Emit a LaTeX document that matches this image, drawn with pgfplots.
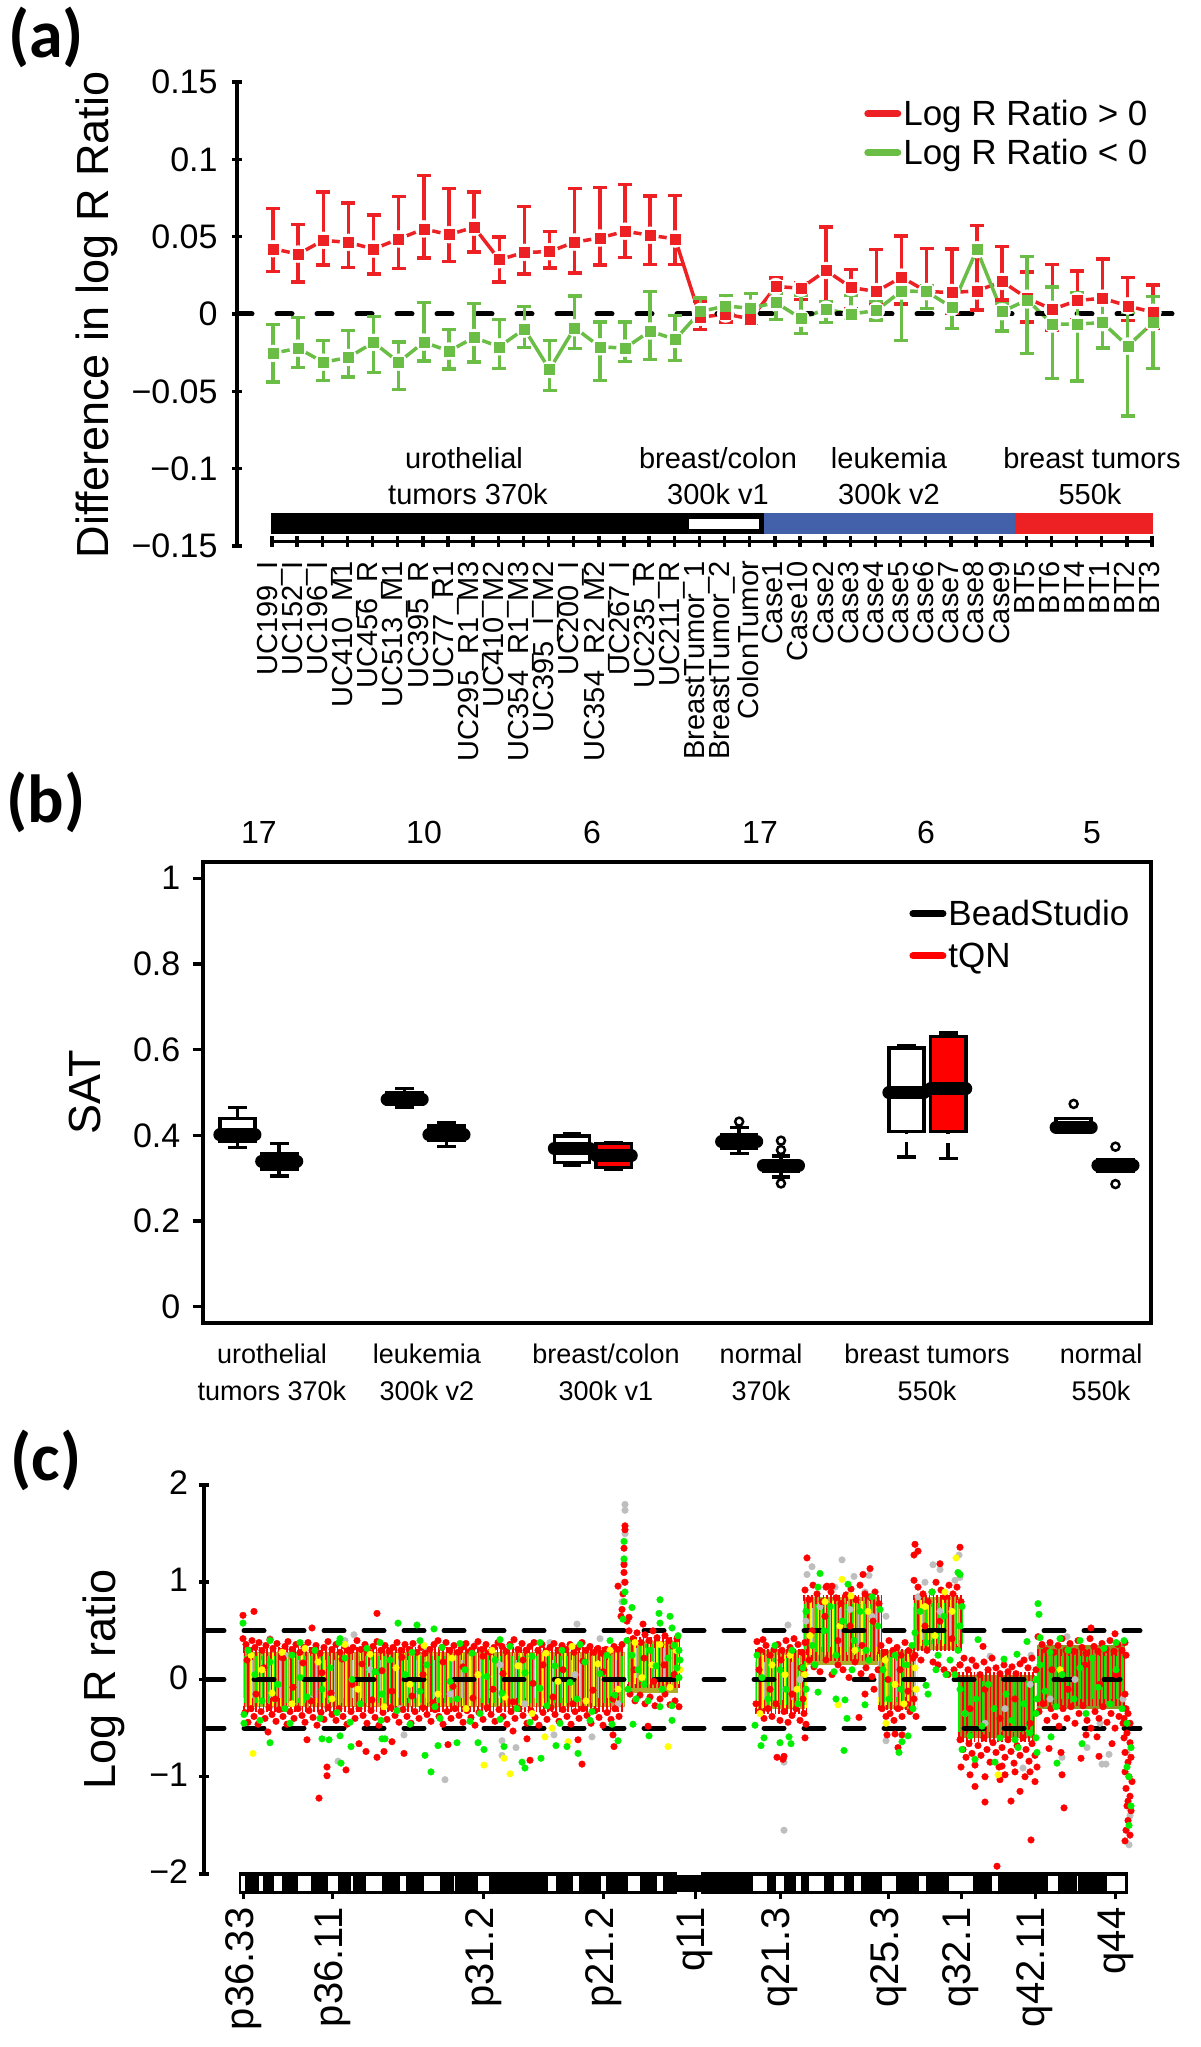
\documentclass[border=0pt]{standalone}
\usepackage{fontspec}
\setmainfont{Liberation Sans}
\newfontfamily\panelfont{Carlito}
\usepackage{pgfplots}
\usepackage{pgfplotstable}
\pgfplotsset{compat=1.18}
\usepgfplotslibrary{statistics}
\definecolor{lrred}{RGB}{237,32,36}
\definecolor{lrgreen}{RGB}{106,189,69}
\definecolor{barblue}{RGB}{67,96,170}
\definecolor{ptred}{RGB}{255,0,0}
\definecolor{ptgreen}{RGB}{0,240,0}
\definecolor{ptyellow}{RGB}{255,255,0}
\definecolor{ptgray}{RGB}{190,190,190}
\definecolor{coreA}{RGB}{176,172,40}
\definecolor{coreB}{RGB}{140,150,35}
\newcommand\fs[1]{\fontsize{#1}{#1}\selectfont}
\newcommand\lab[4]{\node[font=\fs{#3},inner sep=0pt] at (#1pt,{(2047-#2)*1pt}) {#4};}
% densely overplotted part of a segment: x from, x to, centre, height in pt
\newcommand\stripes[4]{%
  \addplot[ptred,line width=0.85*#4pt,dash pattern=on 1.8pt off 2.1pt,forget plot] coordinates {(#1,#3)(#2,#3)};
  \addplot[ptgreen,line width=0.62*#4pt,dash pattern=on 1.6pt off 4.5pt,forget plot] coordinates {(#1,#3)(#2,#3)};}
\newcommand\yellowstripes[4]{%
  \addplot[ptyellow,line width=0.7*#4pt,dash pattern=on 1.3pt off 6pt,forget plot] coordinates {(#1,#3)(#2,#3)};
  \addplot[ptgray,line width=0.5*#4pt,dash pattern=on 1.1pt off 8pt,forget plot] coordinates {(#1,#3)(#2,#3)};}
% columns: sample, red mean/upper/lower, green mean/upper/lower
\pgfplotstableread{
i ry rhi rlo gy ghi glo
0 .0422 .0682 .0275 -.0255 -.0067 -.0439
1 .0387 .0578 .0208 -.0221 -.0024 -.0346
2 .0476 .0788 .0316 -.0312 -.0171 -.0429
3 .0463 .0719 .0301 -.0281 -.0106 -.0407
4 .0420 .0639 .0260 -.0184 -.0017 -.0377
5 .0485 .0758 .0294 -.0312 -.0180 -.0487
6 .0550 .0896 .0361 -.0182 .0074 -.0305
7 .0513 .0812 .0338 -.0240 -.0100 -.0357
8 .0561 .0788 .0400 -.0152 .0069 -.0310
9 .0351 .0498 .0208 -.0212 -.0035 -.0351
10 .0398 .0695 .0258 -.0097 .0048 -.0216
11 .0403 .0532 .0297 -.0359 -.0173 -.0494
12 .0465 .0812 .0264 -.0089 .0117 -.0223
13 .0491 .0818 .0316 -.0212 -.0052 -.0429
14 .0535 .0838 .0366 -.0221 -.0052 -.0307
15 .0509 .0762 .0320 -.0110 .0145 -.0294
16 .0485 .0766 .0320 -.0165 -.0011 -.0301
17 -.0022 .0080 -.0100 .0015 .0102 -.0050
18 0 .0048 -.0052 .0052 .0119 -.0017
19 -.0032 .0048 -.0061 .0037 .0134 -.0039
20 .0177 .0232 .0134 .0074 .0134 -.0035
21 .0167 .0199 .0095 -.0028 .0119 -.0126
22 .0281 .0563 .0015 .0030 .0080 -.0054
23 .0171 .0286 .0037 0 .0119 -.0028
24 .0145 .0416 .0058 .0022 .0080 -.0039
25 .0238 .0504 .0065 .0149 .0167 -.0173
26 .0145 .0424 .0037 .0145 .0182 .0037
27 .0139 .0420 .0004 .0043 .0134 -.0095
28 .0149 .0571 .0026 .0416 .0433 .0394
29 .0210 .0437 .0091 .0015 .0069 -.0110
30 .0102 .0271 -.0052 .0091 .0372 -.0255
31 .0030 .0320 -.0104 -.0065 .0173 -.0418
32 .0087 .0277 -.0039 -.0065 .0139 -.0433
33 .0102 .0355 -.0039 -.0056 .0126 -.0219
34 .0052 .0236 -.0043 -.0208 .0009 -.0660
35 .0011 .0186 -.0095 -.0056 .0113 -.0353
}\ratiotable
\pgfplotsset{
  panel/.style={scale only axis, anchor=south west,
    tick align=outside, major tick length=10.5pt,
    axis line style={line width=3.5pt,line cap=round},
    tick style={line width=3.5pt,black},
    tick label style={font=\fs{34},inner sep=0pt}},
  thickleg/.style={legend style={draw=none,fill=none,inner sep=0pt,
      font=\fs{35},legend cell align=left,row sep=#1},
    legend image code/.code={\draw[##1,line width=7pt,line cap=round] (0pt,0pt) -- (30pt,0pt);}},
  cloud/.style={only marks,mark=*,mark size=3.3pt,mark options={draw=none},forget plot},
  bxp/.style={solid,draw=black,line width=3.5pt,mark=o,mark size=4pt,
    mark options={fill=white,line width=2.5pt},forget plot},
  errs/.style={only marks,mark=square*,mark size=5pt,mark options={solid},forget plot,
    error bars/.cd,y dir=both,y explicit,error bar style={line width=3.5pt},
    error mark options={rotate=90,mark size=7pt,line width=3.5pt}},
}
\begin{document}
\begin{tikzpicture}[x=1pt,y=1pt]
\path[use as bounding box] (0,0) rectangle (1200pt,2047pt);

% ---------- panel (a)
\begin{axis}[panel,thickleg=8pt,at={(237pt,1501pt)},width=943pt,height=464pt,
  xmin=-1.432,xmax=36.08,ymin=-0.15,ymax=0.15,clip=false,
  axis y line=left,hide x axis,y axis line style={-},
  ytick={-0.15,-0.1,-0.05,0,0.05,0.1,0.15},
  yticklabels={−0.15,−0.1,−0.05,0,0.05,0.1,0.15},
  yticklabel style={xshift=-14pt},
  ylabel={Difference in log R Ratio},
  every axis y label/.style={at={(axis description cs:-0.1485,0.498)},anchor=center,rotate=90,font=\fs{45}},
  legend style={at={(axis description cs:0.665,0.965)},anchor=north west}]
\addplot[lrred,line width=3.5pt] table[x=i,y=ry]{\ratiotable};
\addlegendentry{Log R Ratio > 0}
\addplot[only marks,mark=*,mark size=8.5pt,white,forget plot] table[x=i,y=ry]{\ratiotable};
\addplot[lrgreen,line width=3.5pt] table[x=i,y=gy]{\ratiotable};
\addlegendentry{Log R Ratio < 0}
\addplot[only marks,mark=*,mark size=8.5pt,white,forget plot] table[x=i,y=gy]{\ratiotable};
\addplot[black,line width=5pt,line cap=round,dash pattern=on 15pt off 25pt,forget plot] coordinates {(-1.432,0)(35.8,0)};
\addplot[lrred,errs] table[x=i,y=ry,y error plus expr=\thisrow{rhi}-\thisrow{ry},y error minus expr=\thisrow{ry}-\thisrow{rlo}]{\ratiotable};
\addplot[lrgreen,errs] table[x=i,y=gy,y error plus expr=\thisrow{ghi}-\thisrow{gy},y error minus expr=\thisrow{gy}-\thisrow{glo}]{\ratiotable};
\end{axis}
% sample ticks and names sit on their own line above the bottom of the y axis
\begin{axis}[panel,at={(272pt,1505.3pt)},width=880pt,height=1pt,
  xmin=0,xmax=35,ymin=0,ymax=1,axis x line=bottom,hide y axis,x axis line style={-},
  xtick={0,...,35},tick label style={font=\fs{29}},
  xticklabels={UC199\_I,UC152\_I,UC196\_I,UC410\_M1,UC456\_R,UC513\_M1,UC395\_R,UC77\_R1,UC295\_R1\_M3,UC410\_M2,UC354\_R1\_M3,UC395\_I\_M2,UC200\_I,UC354\_R2\_M2,UC267\_I,UC235\_R,UC211\_R,BreastTumor\_1,BreastTumor\_2,ColonTumor,Case1,Case10,Case2,Case3,Case4,Case5,Case6,Case7,Case8,Case9,BT5,BT6,BT4,BT1,BT2,BT3},
  xticklabel style={rotate=90,anchor=east,xshift=-14pt,yshift=2pt}]
\end{axis}
\fill[black] (271pt,1513pt) rectangle (764pt,1534pt);
\fill[white] (689pt,1518pt) rectangle (759pt,1528pt);
\fill[barblue] (764pt,1513pt) rectangle (1015pt,1534pt);
\fill[lrred] (1015pt,1513pt) rectangle (1153pt,1534pt);
\lab{464}{458}{29}{urothelial}
\lab{468}{494}{29}{tumors 370k}
\lab{718}{458}{29}{breast/colon}
\lab{718}{494}{29}{300k v1}
\lab{889}{458}{29}{leukemia}
\lab{889}{494}{29}{300k v2}
\lab{1092}{458}{29}{breast tumors}
\lab{1090}{494}{29}{550k}

% ---------- panel (b)
\begin{axis}[panel,thickleg=12pt,at={(203pt,724pt)},width=948pt,height=461pt,
  xmin=0.177,xmax=22.85,ymin=-0.038,ymax=1.038,
  ytick={0,0.2,0.4,0.6,0.8,1},yticklabels={0,0.2,0.4,0.6,0.8,1},
  yticklabel style={xshift=-12pt},
  xtick=\empty,ytick pos=left,
  boxplot/draw direction=y,
  boxplot/box extend=0.84,boxplot/whisker extend=0.45,
  boxplot/every median/.style={line width=13pt,line cap=round},
  ylabel={SAT},
  every axis y label/.style={at={(axis description cs:-0.1245,0.5)},anchor=center,rotate=90,font=\fs{45}},
  legend style={at={(axis description cs:0.745,0.922)},anchor=north west}]
\addlegendimage{black}
\addlegendentry{BeadStudio}
\addlegendimage{red}
\addlegendentry{tQN}
\addplot[bxp,fill=white,boxplot prepared={draw position=1,lower whisker=.3719,lower quartile=.3852,median=.4008,upper quartile=.4398,upper whisker=.4655}] coordinates {};
\addplot[bxp,fill=red,boxplot prepared={draw position=2,lower whisker=.3049,lower quartile=.3205,median=.34,upper quartile=.3579,upper whisker=.3813}] coordinates {};
\addplot[bxp,fill=white,boxplot prepared={draw position=5,lower whisker=.4655,lower quartile=.4733,median=.4842,upper quartile=.4998,upper whisker=.5092}] coordinates {};
\addplot[bxp,fill=red,boxplot prepared={draw position=6,lower whisker=.3735,lower quartile=.3875,median=.4008,upper quartile=.4218,upper whisker=.4304}] coordinates {};
\addplot[bxp,fill=white,boxplot prepared={draw position=9,lower whisker=.3298,lower quartile=.3368,median=.3696,upper quartile=.3984,upper whisker=.4031}] coordinates {};
\addplot[bxp,fill=red,boxplot prepared={draw position=10,lower whisker=.3212,lower quartile=.3251,median=.3524,upper quartile=.3813,upper whisker=.3836}] coordinates {};
\addplot[bxp,fill=white,boxplot prepared={draw position=13,lower whisker=.3579,lower quartile=.3696,median=.3852,upper quartile=.4008,upper whisker=.4179}] coordinates {(0,.432)};
\addplot[bxp,fill=red,boxplot prepared={draw position=14,lower whisker=.3033,lower quartile=.3173,median=.329,upper quartile=.3384,upper whisker=.3517}] coordinates {(0,.3875)(0,.3657)(0,.2877)};
\addplot[bxp,fill=white,boxplot prepared={draw position=17,lower whisker=.35,lower quartile=.4086,median=.4998,upper quartile=.6035,upper whisker=.609}] coordinates {};
\addplot[bxp,fill=red,boxplot prepared={draw position=18,lower whisker=.3462,lower quartile=.4086,median=.5084,upper quartile=.6308,upper whisker=.6386}] coordinates {};
\addplot[bxp,fill=white,boxplot prepared={draw position=21,lower whisker=.4086,lower quartile=.4086,median=.4187,upper quartile=.4398,upper whisker=.4398}] coordinates {(0,.4733)};
\addplot[bxp,fill=red,boxplot prepared={draw position=22,lower whisker=.3173,lower quartile=.3173,median=.3306,upper quartile=.3439,upper whisker=.3439}] coordinates {(0,.3735)(0,.2862)};
% the two tall boxes have a gap under the box
\addplot[white,line width=6pt,forget plot] coordinates {(17,.402)(17,.3852)};
\addplot[white,line width=6pt,forget plot] coordinates {(18,.402)(18,.3828)};
\end{axis}
\lab{259}{833}{32}{17}
\lab{424}{833}{32}{10}
\lab{592}{833}{32}{6}
\lab{760}{833}{32}{17}
\lab{926}{833}{32}{6}
\lab{1092}{833}{32}{5}
\lab{272}{1354}{27}{urothelial}
\lab{272}{1391}{27}{tumors 370k}
\lab{427}{1354}{27}{leukemia}
\lab{427}{1391}{27}{300k v2}
\lab{606}{1354}{27}{breast/colon}
\lab{606}{1391}{27}{300k v1}
\lab{761}{1354}{27}{normal}
\lab{761}{1391}{27}{370k}
\lab{927}{1354}{27}{breast tumors}
\lab{927}{1391}{27}{550k}
\lab{1101}{1354}{27}{normal}
\lab{1101}{1391}{27}{550k}

% ---------- panel (c), x is position along the chromosome in drawing units
\begin{axis}[panel,at={(204pt,173pt)},width=946pt,height=389pt,
  xmin=204,xmax=1150,ymin=-2,ymax=2,
  axis y line=left,hide x axis,y axis line style={-},
  ytick={-2,-1,0,1,2},yticklabels={−2,−1,0,1,2},
  yticklabel style={xshift=-10.5pt,yshift=2pt},
  ylabel={Log R ratio},
  every axis y label/.style={at={(axis description cs:-0.106,0.5)},anchor=center,rotate=90,font=\fs{45}}]
\addplot[coreA,fill=coreA,draw=none,forget plot] coordinates {(245,.28)(625,.28)(625,-.28)(245,-.28)} --cycle;
\addplot[coreA,fill=coreA,draw=none,forget plot] coordinates {(628,.4)(678,.4)(678,-.14)(628,-.14)} --cycle;
\addplot[coreA,fill=coreA,draw=none,forget plot] coordinates {(758,.3)(805,.3)(805,-.3)(758,-.3)} --cycle;
\addplot[coreA,fill=coreA,draw=none,forget plot] coordinates {(803,.85)(880,.85)(880,.15)(803,.15)} --cycle;
\addplot[coreA,fill=coreA,draw=none,forget plot] coordinates {(880,.3)(915,.3)(915,-.3)(880,-.3)} --cycle;
\addplot[coreA,fill=coreA,draw=none,forget plot] coordinates {(913,.85)(962,.85)(962,.3)(913,.3)} --cycle;
\addplot[coreB,fill=coreB,draw=none,forget plot] coordinates {(958,.05)(1035,.05)(1035,-.6)(958,-.6)} --cycle;
\addplot[coreB,fill=coreB,draw=none,forget plot] coordinates {(1037,.35)(1125,.35)(1125,-.3)(1037,-.3)} --cycle;
\stripes{243}{625}{0}{76}
\yellowstripes{243}{625}{0}{76}
\stripes{627}{680}{.17}{60}
\yellowstripes{627}{680}{.17}{60}
\stripes{755}{807}{-.02}{76}
\yellowstripes{755}{807}{-.02}{76}
\stripes{803}{882}{.53}{78}
\yellowstripes{803}{882}{.53}{78}
\stripes{878}{917}{0}{72}
\yellowstripes{878}{917}{0}{72}
\stripes{913}{963}{.58}{66}
\yellowstripes{913}{963}{.58}{66}
\stripes{958}{1036}{-.28}{82}
\stripes{1037}{1126}{.02}{68}
\addplot[ptgray,cloud] coordinates {
(270,.42)(285,.25)(310,-.2)(345,.4)(370,.1)(400,-.3)(425,.3)(450,-.15)(475,.35)(500,.15)(525,-.25)(550,.38)(575,.05)(600,.42)(615,-.3)(618,-.25)
(622,.8)(625,1.8)(625,1.74)(625,1.5)(624,1.2)(624,1)(800,0)(806,.6)(820,.75)(835,.95)(850,.72)(865,.9)(872,.65)(918,.85)(925,1)(940,.7)(955,1.02)(960,1.05)
(965,-.35)(985,-.45)(1005,-.3)(1030,-.05)(1050,-.2)(1075,0)(1100,-.45)(1123,-.2)(1127,-.75)(1130,-1.4)(1129,-1.7)(784,-1.55)
(338,-.84)(445,-1.03)(577,.57)(354,.46)(502,-.63)(502,-.78)(516,-.7)(404,-.57)(592,-.59)(554,-.57)
(842,1.23)(812,1.16)(807,1.08)(854,1.06)(869,1.07)(933,1.18)(940,1.13)(959,1.28)(886,.65)(788,.56)(784,-.85)(886,-.63)(1023,-.91)(1062,-.8)(1109,-.77)(1102,-.87)(1106,-.87)(990,.24)(1067,.44)(1031,.25)(1087,-.7)
};
\addplot[ptred,cloud] coordinates {
(243,.42)(246,.36)(249,.3)(252,.4)(255,.33)(259,.38)(262,.3)(266,.35)(270,.41)(273,.32)(277,.37)(281,.29)(285,.34)(288,.39)(292,.31)(296,.36)(300,.28)(304,.33)(308,.38)(312,.3)
(316,.35)(320,.27)(324,.33)(328,.39)(332,.31)(336,.36)(340,.28)(345,.34)(349,.29)(353,.33)(357,.4)(361,.31)(365,.36)(369,.28)(373,.34)(377,.39)(381,.3)(385,.35)(389,.29)(393,.33)
(397,.38)(401,.3)(405,.36)(409,.31)(413,.37)(417,.28)(421,.33)(425,.27)(430,.31)(434,.36)(438,.4)(442,.33)(446,.38)(450,.3)(454,.35)(458,.28)(462,.33)(466,.37)(470,.29)(474,.34)
(478,.39)(482,.31)(486,.36)(490,.28)(494,.33)(498,.38)(502,.34)(506,.29)(510,.36)(514,.41)(518,.31)(522,.37)(526,.3)(530,.34)(534,.38)(538,.3)(542,.36)(546,.29)(550,.33)(554,.37)
(558,.3)(562,.35)(566,.31)(570,.36)(574,.28)(578,.33)(582,.38)(586,.3)(590,.34)(594,.28)(598,.32)(602,.27)(606,.31)(610,.29)(614,.34)(618,.31)(622,.36)
(245,-.34)(248,-.44)(251,-.3)(254,-.38)(258,-.46)(261,-.33)(265,-.4)(269,-.29)(272,-.36)(276,-.43)(279,-.31)(283,-.38)(287,-.46)(290,-.33)(294,-.4)(298,-.3)(302,-.37)(305,-.44)(309,-.32)(313,-.39)
(317,-.47)(321,-.34)(324,-.41)(328,-.29)(332,-.36)(336,-.42)(339,-.3)(343,-.38)(347,-.46)(351,-.33)(355,-.4)(359,-.3)(363,-.37)(367,-.45)(371,-.32)(375,-.39)(379,-.47)(383,-.34)(387,-.41)(391,-.29)
(395,-.37)(399,-.44)(403,-.31)(407,-.38)(411,-.45)(415,-.33)(419,-.4)(423,-.29)(427,-.36)(431,-.43)(435,-.31)(439,-.38)(443,-.46)(447,-.33)(451,-.4)(455,-.3)(459,-.37)(463,-.44)(467,-.32)(471,-.39)
(475,-.47)(479,-.34)(483,-.41)(487,-.29)(491,-.36)(495,-.43)(499,-.31)(503,-.38)(507,-.46)(511,-.33)(515,-.4)(519,-.3)(523,-.37)(527,-.45)(531,-.32)(535,-.39)(539,-.47)(543,-.34)(547,-.41)(551,-.29)
(555,-.36)(559,-.43)(563,-.31)(567,-.38)(571,-.46)(575,-.33)(579,-.4)(583,-.3)(587,-.37)(591,-.45)(595,-.32)(599,-.39)(603,-.47)(607,-.34)(611,-.41)(615,-.3)(619,-.38)
(247,.2)(256,-.15)(264,.12)(275,-.2)(283,.22)(293,-.08)(303,.17)(311,-.22)(322,.07)(331,-.14)(342,.21)(352,-.05)(362,.16)(372,-.21)(382,.09)(392,-.12)(402,.23)(412,-.17)(423,.05)(433,-.24)
(443,.18)(453,-.07)(463,.13)(473,-.19)(483,.24)(493,-.1)(503,.06)(513,-.23)(523,.2)(533,-.04)(543,.15)(553,-.18)(563,.1)(573,-.25)(583,.19)(593,-.11)(603,.08)(613,-.2)
(243,.66)(254,.7)(377,.68)(312,.53)(643,.57)(618,.96)(629,.64)(327,-.9)(327,-.99)(346,-.93)(307,-.62)(359,-.66)(366,-.74)(377,-.8)(384,-.74)(392,-.64)(404,-.76)(448,-.67)(527,-.61)(530,-.83)
(578,-.62)(582,-.87)(614,-.69)(648,-.48)(513,-.53)(268,-.54)(613,-.57)(319,-1.22)
(629,.5)(633,.42)(637,.48)(641,.38)(645,.46)(649,.4)(653,.5)(657,.43)(661,.36)(665,.45)(669,.4)(673,.34)(677,.42)(630,-.15)(635,-.22)(640,-.16)(645,-.25)(650,-.18)(655,-.27)(660,-.2)
(665,-.15)(670,-.26)(675,-.22)(679,-.28)(634,.1)(644,.22)(654,-.02)(664,.15)(674,.05)(625,2.08)(625,1.58)(625,1.54)(624,1.35)(624,1.18)(624,1.1)(625,1)(623,.88)(622,.72)(621,.65)(627,.6)
(757,.39)(760,.3)(763,.41)(766,.35)(770,.25)(774,.31)(778,.36)(782,.3)(786,.4)(790,.33)(794,.42)(798,.36)(802,.28)(805,.38)(756,-.25)(760,-.33)(764,-.4)(768,-.3)(772,-.38)(776,-.25)
(780,-.42)(784,-.33)(788,-.44)(792,-.37)(796,-.3)(800,-.42)(804,-.35)(806,-.46)(803,-.2)(759,.1)(770,-.1)(781,.2)(792,-.15)(801,.12)
(805,.92)(809,.82)(813,.97)(817,.88)(822,.8)(826,.95)(831,.9)(836,.84)(841,.78)(846,.87)(851,.93)(856,.82)(860,.97)(865,.88)(870,.85)(875,.9)(879,.78)(804,.1)(809,.2)(814,.13)
(820,.08)(826,.2)(832,.05)(838,.15)(843,.1)(849,.02)(855,.18)(861,.06)(866,.12)(872,.03)(878,.1)(812,.5)(825,.65)(838,.4)(850,.55)(862,.35)(873,.6)
(881,.35)(885,.28)(889,.4)(893,.3)(897,.33)(901,.25)(905,.38)(909,.3)(913,.22)(882,-.3)(886,-.38)(890,-.35)(894,-.42)(898,-.3)(902,-.38)(906,-.25)(910,-.33)(914,-.2)(916,-.38)(888,0)(900,.1)(908,-.12)
(914,1.02)(918,.95)(923,.88)(928,.8)(932,.9)(936,1)(941,.92)(945,.85)(949,.97)(953,.88)(957,.95)(961,.8)(915,.25)(921,.2)(927,.3)(933,.18)(938,.15)(944,.1)(948,.05)(954,.1)(960,.15)(925,.55)(940,.6)(952,.42)
(960,.15)(964,.22)(968,.1)(972,.2)(976,.14)(980,.05)(984,.18)(988,.1)(992,.22)(996,.12)(1000,.06)(1004,.15)(1008,.08)(1012,.13)(1016,.06)(1020,.16)(1024,.2)(1028,.12)(1032,.22)(1036,.1)
(960,-.62)(963,-.72)(966,-.8)(969,-.66)(972,-.76)(975,-.88)(978,-.68)(981,-.78)(984,-.6)(987,-.72)(990,-.85)(993,-.65)(996,-.75)(999,-.9)(1002,-.7)(1005,-.8)(1008,-.62)(1011,-.74)(1014,-.86)(1017,-.68)
(1020,-.78)(1023,-.6)(1026,-.72)(1029,-.84)(1032,-.66)(1035,-.78)(1037,-.9)(961,-.9)(970,-.98)(985,-1)(1000,-1.03)(1015,-.95)(1030,-.95)(1035,-1.05)(1005,-.98)(970,-.3)(985,-.1)(1000,-.4)(1015,-.2)(1030,-.45)
(997,-1.92)(1031,-1.65)(1064,-1.32)(985,-1.26)(1011,-1.25)(975,-1.1)(1020,-1.15)
(1038,.44)(1042,.36)(1046,.3)(1050,.38)(1054,.28)(1058,.35)(1062,.42)(1066,.3)(1070,.37)(1074,.29)(1078,.4)(1082,.33)(1086,.27)(1090,.42)(1094,.34)(1098,.29)(1102,.37)(1106,.31)(1110,.4)(1114,.29)
(1118,.36)(1122,.3)(1125,.38)(1126,.25)(1039,-.33)(1043,-.25)(1047,-.42)(1051,-.3)(1055,-.38)(1059,-.48)(1063,-.3)(1067,-.4)(1071,-.28)(1075,-.45)(1079,-.35)(1083,-.27)(1087,-.42)(1091,-.5)(1095,-.33)(1099,-.4)
(1103,-.28)(1107,-.44)(1111,-.35)(1115,-.5)(1119,-.38)(1123,-.45)(1052,.1)(1068,-.1)(1085,.15)(1100,-.05)(1116,.05)(1125,-.15)
(1124,-.4)(1126,-.3)(1128,-.35)(1130,-.45)(1124,-.6)(1127,-.55)(1130,-.65)(1125,-.75)(1128,-.85)(1131,-.8)(1125,-.95)(1129,-1)(1132,-1.05)(1126,-1.12)(1130,-1.2)(1127,-1.3)(1131,-1.35)(1128,-1.45)(1126,-1.55)(1130,-1.6)(1128,-1.25)(1125,-1.66)
(807,1.25)(915,1.39)(918,1.32)(914,1.28)(960,1.36)(870,1.14)(863,1.08)(940,1.19)(827,.96)(832,.96)(1091,.53)(1115,.47)(983,.34)(859,-.39)(874,-.1)(865,-.15)(805,-.6)(777,-.8)(784,-.79)(898,-.7)
(887,-.57)(895,-.56)(902,-.57)(1049,-.71)(1061,-.75)(1081,-.81)(1099,-.79)(1112,-.66)(1086,-.57)(1097,-.59)(1062,-.98)(1025,-1)(1002,-.89)(783,-.82)
};
\addplot[ptyellow,cloud] coordinates {
(251,.25)(262,.1)(272,-.14)(282,.28)(292,-.25)(305,.32)(318,.18)(332,-.2)(345,.36)(358,-.1)(370,.26)(384,-.28)(396,.12)(410,-.05)(424,.35)(438,-.15)(452,.22)(466,-.3)(478,.05)(492,.3)
(505,-.18)(518,.14)(532,-.35)(546,.27)(558,-.02)(572,.34)(586,-.22)(598,.16)(610,.3)(618,-.1)(635,.38)(642,.02)(652,.15)(660,.36)(670,-.08)(676,.3)(680,.1)
(760,-.35)(772,.15)(785,.05)(790,.25)(797,-.1)(805,.05)(810,.45)(825,.8)(840,.55)(855,.3)(868,.7)(885,.2)(895,-.05)(904,-.25)(915,.12)(916,-.1)(925,.75)(935,.45)(945,.9)(952,.7)(1060,.1)
(253,-.76)(668,-.69)(484,-.88)(510,-.97)(545,-.59)(568,-.64)(552,-.5)(504,-.81)(956,1.25)(842,1.03)(838,-.26)(886,-.45)(851,.86)(998,-.98)
};
\addplot[ptgreen,cloud] coordinates {
(248,.3)(255,.05)(262,-.22)(270,.18)(278,-.05)(285,-.3)(292,.25)(300,.02)(307,-.18)(315,.3)(322,-.1)(330,.12)(337,-.34)(345,.22)(352,0)(360,-.25)(367,.32)(375,.08)(382,-.15)(390,.2)
(397,-.32)(405,.05)(412,.28)(420,-.12)(427,.15)(435,-.28)(442,.33)(450,-.02)(457,-.2)(465,.1)(472,.27)(480,-.35)(487,.03)(495,.2)(502,-.14)(510,.34)(517,-.3)(525,.07)(532,.24)(540,-.09)
(547,-.27)(555,.14)(562,.3)(570,-.03)(577,-.2)(585,.18)(592,-.33)(600,.06)(607,.25)(615,-.16)
(260,-.42)(290,-.45)(320,-.4)(350,-.44)(381,-.42)(410,-.46)(440,-.4)(470,-.43)(500,-.41)(530,-.44)(560,-.45)(590,-.42)(612,-.46)(270,.4)(300,.38)(340,.42)(380,.38)(420,.4)(460,.37)(500,.41)(540,.38)(580,.36)(610,.4)
(627,.4)(632,.25)(638,.1)(644,-.05)(650,.3)(656,.14)(662,-.1)(668,.22)(674,.35)(678,.45)(679,.3)(677,.12)(680,.2)(679,.02)(628,-.1)(636,-.2)(648,-.22)(660,-.28)(672,-.27)(624,1.42)(624,1.24)(625,.9)(624,.8)(623,.62)
(243,.58)(398,.58)(417,.56)(434,.52)(660,.82)(659,.68)(670,.65)(632,.74)(339,.38)(660,.58)(672,.53)(322,-.61)(329,-.62)(340,-.58)(270,-.65)(351,-.69)(341,-.86)(382,-.61)(385,-.61)(425,-.78)
(431,-.95)(438,-.68)(457,-.65)(478,-.65)(484,-.72)(522,-.85)(525,-.91)(541,-.81)(504,-.69)(556,-.68)(567,-.69)(578,-.76)(618,-.63)(649,-.58)(633,-.46)(672,-.42)(244,-.36)(244,-.45)
(757,.25)(762,.02)(768,-.2)(775,.35)(780,.1)(786,-.1)(792,.3)(798,-.25)(803,.12)(806,-.1)
(806,.7)(812,.35)(818,.95)(824,.5)(830,.75)(836,.25)(842,.6)(848,.98)(854,.4)(860,.7)(866,.3)(872,.85)(878,.55)(880,.72)(815,.15)(834,.08)(852,.1)(869,.2)
(883,.1)(889,-.2)(895,.25)(901,-.1)(907,.15)(913,-.3)
(915,.48)(920,.7)(926,.38)(932,.9)(938,.25)(944,.65)(950,.2)(955,.05)(958,.3)(960,.55)(960,1.08)(962,.75)(958,1.1)(936,.1)(946,.05)(912,.35)
(960,-.1)(965,-.35)(970,-.58)(976,-.2)(982,-.48)(988,-.05)(994,-.3)(1000,-.6)(1006,-.15)(1012,-.42)(1018,-.7)(1024,-.25)(1030,-.55)(1036,-.35)(1036,-.6)(1037,-.75)(962,-.72)(975,-.82)(995,-.85)(1015,-.62)(1037,-.2)(1036,0)
(1040,.15)(1045,-.12)(1050,.28)(1056,-.28)(1062,.05)(1068,.3)(1074,-.2)(1080,.12)(1086,-.35)(1092,.22)(1098,-.08)(1104,.32)(1110,-.25)(1116,.1)(1122,-.3)(1040,.43)(1060,.42)(1080,.4)(1116,.38)(1124,.4)
(1127,-.45)(1131,-.7)(1129,-1)(1131,-1.3)(1129,-1.5)(1127,-.9)
(820,1.09)(1038,.78)(1039,.67)(978,.41)(1027,.39)(1017,.26)(1004,.21)(818,-.13)(836,-.2)(845,-.21)(865,-.26)(847,-.4)(926,-.06)(928,-.15)(755,-.47)(764,-.6)(761,-.68)(780,-.65)(791,-.66)(789,-.59)
(844,-.73)(902,-.64)(899,-.75)(908,-.58)(1057,-.86)(1051,-.59)(1082,-.66)
};
\addplot[black,line width=5pt,line cap=round,dash pattern=on 20pt off 20pt,forget plot] coordinates {(204,.5)(1140,.5)};
\addplot[black,line width=5pt,line cap=round,dash pattern=on 20pt off 30pt,forget plot] coordinates {(204,0)(1120,0)};
\addplot[black,line width=5pt,line cap=round,dash pattern=on 20pt off 20pt,forget plot] coordinates {(204,-.5)(1140,-.5)};
\end{axis}
\begin{axis}[panel,at={(204pt,153pt)},width=946pt,height=1pt,
  xmin=204,xmax=1150,ymin=0,ymax=1,axis x line=bottom,hide y axis,
  x axis line style={draw=none},major tick length=11pt,tick style={line width=3pt},
  xtick={243.8,332.5,483.8,603.8,695,780,888.8,961,1035,1115.6},
  tick label style={font=\fs{40}},
  xticklabels={p36.33,p36.11,p31.2,p21.2,q11,q21.3,q25.3,q32.1,q42.11,q44},
  xticklabel style={rotate=90,anchor=east,xshift=-8pt}]
\end{axis}
\fill[black] (239pt,153pt) rectangle (677pt,175pt);
\fill[black] (677pt,155pt) rectangle (701pt,172pt);
\fill[black] (701pt,153pt) rectangle (1128pt,175pt);
\foreach \a/\b in {241.2/245,259.4/263.1,273.8/281.9,298.1/311.3,327.5/338.1,350.6/353.1,366.3/381.9,400/405.6,423.8/440,453.8/455,478.1/488.8,547.5/556.3,573.1/578.8,601.3/606.3,628.1/640,656.9/662.5,753.1/766.9,776.3/784.4,795.6/801.3,809.4/823.8,833.8/843.8,854.4/861.3,881.9/895.6,918.8/925.6,949.4/973.1,991.9/997.5,1048.1/1057.5,1076.9/1078.1,1106.9/1125}
  \fill[white] (\a pt,156pt) rectangle (\b pt,171pt);

\node[font=\fs{68}\panelfont\bfseries,inner sep=0pt] at (46pt,2010pt) {(a)};
\node[font=\fs{68}\panelfont\bfseries,inner sep=0pt] at (46pt,1245pt) {(b)};
\node[font=\fs{68}\panelfont\bfseries,inner sep=0pt] at (46pt,587pt) {(c)};
\end{tikzpicture}
\end{document}
